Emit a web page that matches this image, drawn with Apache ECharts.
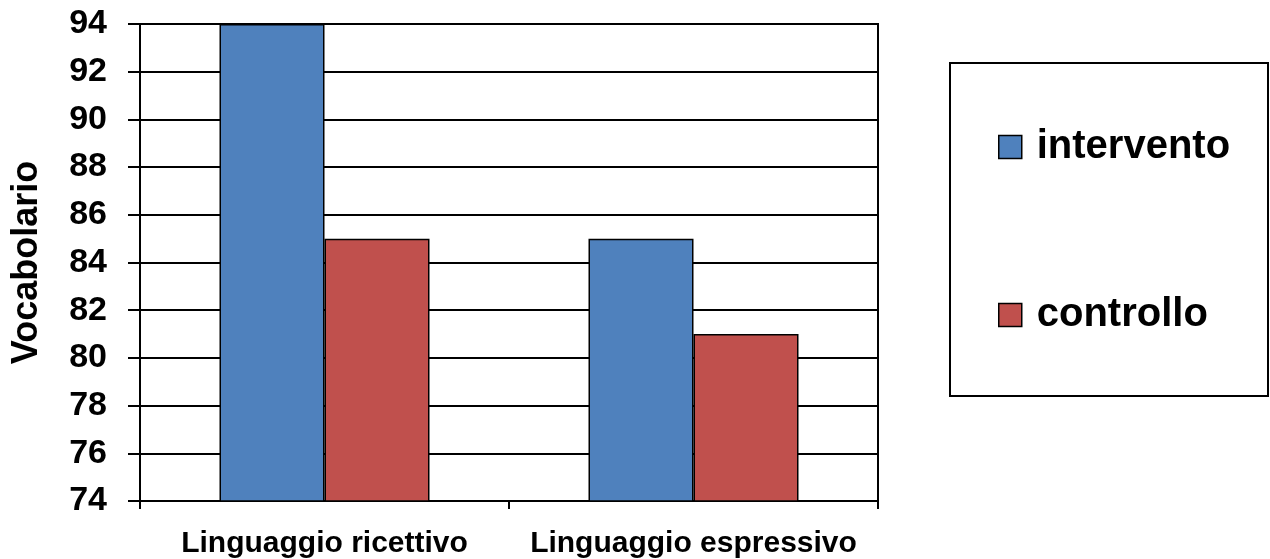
<!DOCTYPE html>
<html>
<head>
<meta charset="utf-8">
<script src="https://cdn.jsdelivr.net/npm/echarts@6/dist/echarts.min.js"></script>
<style>
  html, body { margin: 0; padding: 0; background: #fff; }
  #chart { width: 1270px; height: 559px; }
</style>
</head>
<body>
<div id="chart"></div>
<script>
  const categories = ['Linguaggio ricettivo', 'Linguaggio espressivo'];
  const intervento = [94, 85];
  const controllo = [85, 81];
  const yMin = 74, yMax = 94, yStep = 2;

  const font = '"Liberation Sans", Arial, sans-serif';
  const myChart = echarts.init(document.getElementById('chart'));

  const legendBase = {
    orient: 'vertical',
    left: 993,
    icon: 'rect',
    itemWidth: 23,
    itemHeight: 23,
    itemStyle: { borderColor: '#000', borderWidth: 1.5 },
    textStyle: {
      fontFamily: font, fontWeight: 'bold', fontSize: 40, color: '#000',
      lineHeight: 40, padding: [0, 0, 0, 10]
    },
    selectedMode: false
  };

  const option = {
    animation: false,
    backgroundColor: '#fff',
    graphic: [{
      type: 'rect',
      shape: { x: 950, y: 63, width: 318, height: 333 },
      style: { fill: 'none', stroke: '#000', lineWidth: 2 }
    }],
    legend: [
      Object.assign({}, legendBase, { top: 122, data: ['intervento'] }),
      Object.assign({}, legendBase, { top: 290, data: ['controllo'] })
    ],
    grid: {
      left: 140, right: 392, top: 24, bottom: 57,
      show: true, borderColor: '#000', borderWidth: 2
    },
    xAxis: {
      type: 'category',
      data: categories,
      axisLine: { lineStyle: { color: '#000', width: 2 } },
      axisTick: { show: true, alignWithLabel: false, length: 8, lineStyle: { color: '#000', width: 2 } },
      axisLabel: {
        interval: 0, margin: 28, color: '#000', fontFamily: font, fontWeight: 'bold', fontSize: 30
      }
    },
    yAxis: {
      type: 'value',
      min: yMin, max: yMax, interval: yStep,
      name: 'Vocabolario',
      nameLocation: 'middle',
      nameGap: 95,
      nameTextStyle: { color: '#000', fontFamily: font, fontWeight: 'bold', fontSize: 36 },
      axisLine: { show: true, lineStyle: { color: '#000', width: 2 } },
      axisTick: { show: true, length: 12, lineStyle: { color: '#000', width: 2 } },
      splitLine: { lineStyle: { color: '#000', width: 2 } },
      axisLabel: {
        margin: 33, color: '#000', fontFamily: font, fontWeight: 'bold', fontSize: 34
      }
    },
    series: [
      {
        name: 'intervento', type: 'bar', data: intervento,
        barWidth: 105, barGap: '0%',
        itemStyle: { color: '#4F81BD', borderColor: '#000', borderWidth: 1.5 }
      },
      {
        name: 'controllo', type: 'bar', data: controllo,
        barWidth: 105,
        itemStyle: { color: '#C0504D', borderColor: '#000', borderWidth: 1.5 }
      }
    ]
  };

  myChart.setOption(option);
</script>
</body>
</html>
